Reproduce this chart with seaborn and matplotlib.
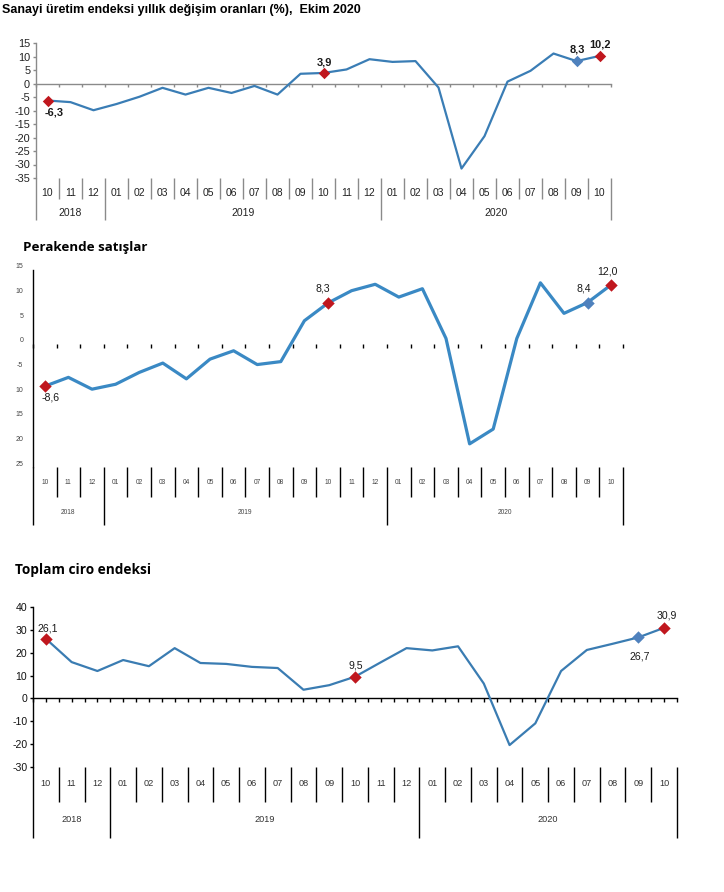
import numpy as np
import pandas as pd
import seaborn as sns
import matplotlib
matplotlib.use("Agg")
import matplotlib.pyplot as plt

# ---------------- data ----------------
months = ['10', '11', '12', '01', '02', '03', '04', '05', '06', '07', '08', '09',
          '10', '11', '12', '01', '02', '03', '04', '05', '06', '07', '08', '09', '10']
years = ['2018', '2019', '2020']
year_first = [0, 3, 15]      # first month index of each year
year_last = [2, 14, 24]

sanayi = [-6.3, -6.9, -9.9, -7.6, -4.9, -1.6, -4.1, -1.6, -3.5, -0.9, -4.1, 3.6,
          3.9, 5.2, 9.0, 8.0, 8.3, -1.5, -31.5, -19.5, 0.7, 4.7, 11.1, 8.3, 10.2]
perakende = [-8.6, -6.8, -9.2, -8.2, -5.8, -3.9, -7.1, -3.1, -1.4, -4.2, -3.6, 4.7,
             8.3, 10.8, 12.1, 9.5, 11.2, 1.1, -20.3, -17.3, 1.1, 12.4, 6.2, 8.4, 12.0]
ciro = [26.1, 15.9, 12.0, 16.8, 14.1, 22.0, 15.5, 15.1, 13.8, 13.3, 3.8, 5.8,
        9.5, 15.8, 22.0, 21.0, 22.8, 6.5, -20.4, -10.9, 12.0, 21.2, 23.9, 26.7, 30.9]

titles = ['Sanayi üretim endeksi yıllık değişim oranları (%),  Ekim 2020',
          'Perakende satışlar', 'Toplam ciro endeksi']
red_idx = [0, 12, 24]
blue_idx = [23]

sanayi_yticks = [15, 10, 5, 0, -5, -10, -15, -20, -25, -30, -35]
perakende_yticks = [15, 10, 5, 0, -5, -10, -15, -20, -25]
perakende_ytick_labels = ['15', '10', '5', '0', '-5', '10', '15', '20', '25']
ciro_yticks = [40, 30, 20, 10, 0, -10, -20, -30]

# ---------------- figure ----------------
sns.set_theme(style="white")
plt.rcParams['font.family'] = ['Liberation Sans', 'DejaVu Sans']
W, H = 724, 892
fig = plt.figure(figsize=(W / 100, H / 100), dpi=100)
fig.patch.set_facecolor('white')

RED = '#C0171E'
BLUE = '#4F81BD'


def make_axes(l, r, t, b):
    return fig.add_axes([l / W, 1 - b / H, (r - l) / W, (b - t) / H])


def px_to_axfrac(py, t, b):
    return (b - py) / (b - t)


def draw_panel(values, box, ylim, yticks, ylabels, line_color, lw,
               month_y, year_y, month_bottom, year_bottom, lab_fs, lab_color,
               sep_color, ytick_fs, ytick_color, ytick_len, ytick_pad, ms,
               annots, annot_fs, annot_weight, label_offset_px=0,
               xticks_half=False, zero_line=True, zero_color='#808080', tick_len=3):
    l, r, t, b = box
    ax = make_axes(l, r, t, b)
    df = pd.DataFrame({'i': np.arange(len(values)), 'v': values})
    sns.lineplot(data=df, x='i', y='v', ax=ax, color=line_color, lw=lw, zorder=3)
    dfr = df.iloc[red_idx]
    dfb = df.iloc[blue_idx]
    sns.scatterplot(data=dfr, x='i', y='v', ax=ax, marker='D', s=ms, color=RED,
                    edgecolor=RED, linewidth=0, zorder=4)
    sns.scatterplot(data=dfb, x='i', y='v', ax=ax, marker='D', s=ms, color=BLUE,
                    edgecolor=BLUE, linewidth=0, zorder=4)
    ax.set_xlim(-0.5, len(values) - 0.5)
    ax.set_ylim(*ylim)
    ax.set_xlabel('')
    ax.set_ylabel('')
    ax.set_facecolor('none')
    for s in ['top', 'right']:
        ax.spines[s].set_visible(False)
    ax.spines['left'].set_color(zero_color)
    ax.spines['left'].set_linewidth(1.0)
    ax.spines['bottom'].set_position(('data', 0))
    ax.spines['bottom'].set_color(zero_color)
    ax.spines['bottom'].set_linewidth(1.0)
    ax.spines['bottom'].set_visible(zero_line)
    n = len(values)
    if xticks_half:
        xt = np.arange(-0.5, n, 0.5)
    else:
        xt = np.arange(-0.5, n, 1.0)
    ax.set_xticks(xt)
    ax.set_xticklabels([])
    ax.tick_params(axis='x', direction='out', length=tick_len * 0.72, width=1.0,
                   color=zero_color, bottom=True)
    ax.set_yticks(yticks)
    ax.set_yticklabels(ylabels, fontsize=ytick_fs, color=ytick_color)
    ax.tick_params(axis='y', direction='out', length=ytick_len * 0.72, width=1.0,
                   color=zero_color, left=True, pad=ytick_pad)
    if label_offset_px:
        from matplotlib.transforms import ScaledTranslation
        off = ScaledTranslation(0, label_offset_px / 100, fig.dpi_scale_trans)
        for lab in ax.get_yticklabels():
            lab.set_transform(lab.get_transform() + off)
    ax.grid(False)

    # category axis below the plot
    tr = ax.get_xaxis_transform()
    y0 = 0.0
    ym = px_to_axfrac(month_bottom, t, b)
    yy = px_to_axfrac(year_bottom, t, b)
    ymt = px_to_axfrac(month_y, t, b)
    yyt = px_to_axfrac(year_y, t, b)
    year_bounds = set([f - 0.5 for f in year_first] + [n - 0.5])
    for k in range(n + 1):
        x = k - 0.5
        bottom = yy if x in year_bounds else ym
        ax.plot([x, x], [y0, bottom], transform=tr, color=sep_color, lw=1.0,
                clip_on=False, solid_capstyle='butt')
    for k, m in enumerate(months):
        ax.text(k, ymt, m, transform=tr, ha='center', va='center',
                fontsize=lab_fs, color=lab_color)
    for yname, f, la in zip(years, year_first, year_last):
        ax.text((f + la) / 2, yyt, yname, transform=tr, ha='center', va='center',
                fontsize=lab_fs, color=lab_color)

    for idx, txt, dx, dy in annots:
        ax.annotate(txt, (idx, values[idx]), xytext=(dx * 0.72, dy * 0.72),
                    textcoords='offset points', ha='center', va='center',
                    fontsize=annot_fs, fontweight=annot_weight, color='#1a1a1a',
                    zorder=5)
    return ax


# Panel 1
fig.text(2 / W, 1 - 10 / H, titles[0], fontsize=9.0, fontweight='bold',
         ha='left', va='center', color='black')
draw_panel(sanayi, (36, 611, 43, 178), (-35, 15), sanayi_yticks,
           [str(v) for v in sanayi_yticks], '#3A7DB5', 1.6,
           month_y=193, year_y=213, month_bottom=199, year_bottom=220,
           lab_fs=7.5, lab_color='#222222', sep_color='#8a8a8a',
           ytick_fs=7.9, ytick_color='#222222', ytick_len=3, ytick_pad=2,
           ms=34,
           annots=[(0, '-6,3', 7, -12), (12, '3,9', 1, 10),
                   (23, '8,3', 1, 12), (24, '10,2', 1, 11)],
           annot_fs=7.9, annot_weight='bold', zero_color='#8a8a8a')

# Panel 2
fig.text(23 / W, 1 - 247 / H, titles[1], fontsize=9.6, fontweight='bold',
         family=['Open Sans', 'DejaVu Sans'], ha='left', va='center', color='black')
draw_panel(perakende, (33, 623, 270, 467), (-25, 15), perakende_yticks,
           perakende_ytick_labels, '#3A89C4', 2.3,
           month_y=482, year_y=513, month_bottom=497, year_bottom=525,
           lab_fs=4.8, lab_color='#444444', sep_color='black',
           ytick_fs=5.0, ytick_color='#444444', ytick_len=0, ytick_pad=7,
           ms=40,
           annots=[(0, '-8,6', 6, -11), (12, '8,3', -5, 14),
                   (23, '8,4', -4, 14), (24, '12,0', -4, 13)],
           annot_fs=7.6, annot_weight='normal', label_offset_px=4,
           zero_line=False, zero_color='black', tick_len=4)

# Panel 3
fig.text(15 / W, 1 - 570 / H, titles[2], fontsize=9.8, fontweight='bold',
         family=['Open Sans', 'DejaVu Sans'], ha='left', va='center', color='black')
draw_panel(ciro, (33, 677, 607, 767), (-30, 40), ciro_yticks,
           [str(v) for v in ciro_yticks], '#3A7CB2', 1.6,
           month_y=784, year_y=820, month_bottom=802, year_bottom=838,
           lab_fs=6.6, lab_color='#333333', sep_color='black',
           ytick_fs=7.6, ytick_color='#111111', ytick_len=3, ytick_pad=2,
           ms=40,
           annots=[(0, '26,1', 2, 10), (12, '9,5', 1, 11),
                   (23, '26,7', 1, -19), (24, '30,9', 3, 12)],
           annot_fs=7.6, annot_weight='normal', xticks_half=True,
           zero_color='black', tick_len=4)

fig.savefig('out.png', dpi=100, facecolor='white')
